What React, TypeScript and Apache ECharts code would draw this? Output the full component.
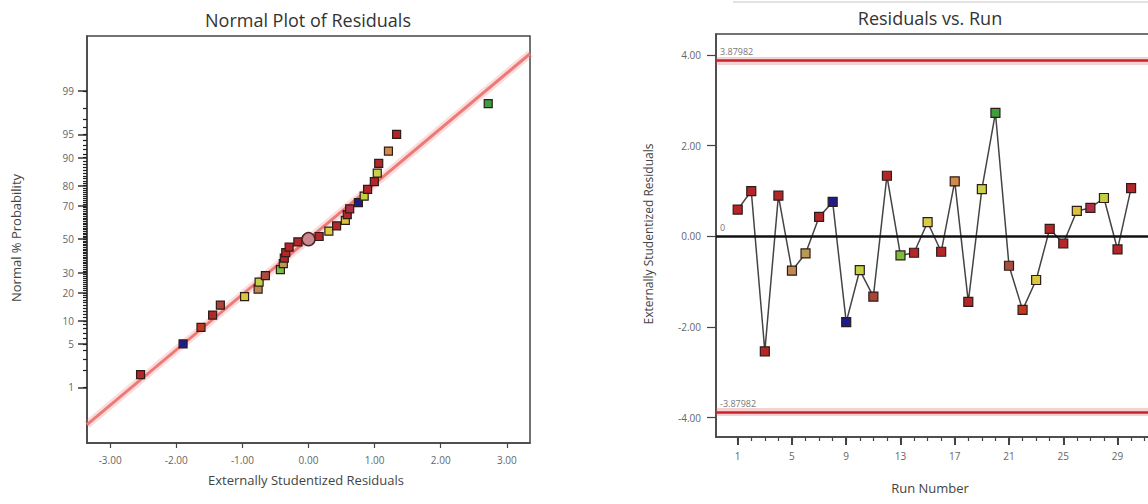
import React, { useEffect, useRef } from "react";
import * as echarts from "echarts";

// ---------- data ----------
const runNumbers = [
  1, 2, 3, 4, 5, 6, 7, 8, 9, 10, 11, 12, 13, 14, 15, 16, 17, 18, 19, 20, 21, 22, 23, 24, 25, 26, 27, 28, 29, 30,
];
const runResiduals = [
  0.586, 0.996, -2.54, 0.894, -0.762, -0.381, 0.425, 0.755, -1.897, -0.747, -1.333, 1.333, -0.425, -0.366, 0.308,
  -0.344, 1.209, -1.45, 1.04, 2.718, -0.652, -1.626, -0.967, 0.161, -0.161, 0.557, 0.623, 0.842, -0.293, 1.062,
];
const runColors = [
  "#b3262a", "#b3262a", "#b3262a", "#b3262a", "#c08a52", "#b89a55", "#b3262a", "#1c1c8c", "#1c1c8c", "#c2d044",
  "#a8443a", "#b3262a", "#7cbc40", "#b3262a", "#dccc42", "#b3262a", "#d08a4c", "#b3262a", "#c8d24c", "#3e9e3e",
  "#a84e40", "#c03a22", "#d8c840", "#b3262a", "#b3262a", "#d8c23e", "#b02e48", "#c0d040", "#b3262a", "#b3262a",
];
// normal % probability of each ranked residual
const normalPct = [
  1.67, 5, 8.33, 11.67, 15, 18.33, 21.67, 25, 28.33, 31.67, 35, 38.33, 41.67, 45, 48.33, 51.67, 55, 58.33, 61.67, 65,
  68.33, 71.67, 75, 78.33, 81.67, 85, 88.33, 91.67, 95, 98.33,
];
const normalTickPct = [1, 5, 10, 20, 30, 50, 70, 80, 90, 95, 99];
const residualTicks = [-3, -2, -1, 0, 1, 2, 3];
const runTicks = [1, 5, 9, 13, 17, 21, 25, 29, 33];
const runResidualTicks = [-4, -2, 0, 2, 4];
const limitValue = 3.87982;
const fitLineResid = [-3.35, 3.35];
const fitLinePct = [0.18, 99.82];
const centerPoint = [0, 50];

// ---------- normal probability scale transform ----------
function probit(p: number): number {
  const a = [-39.69683028665376, 220.9460984245205, -275.9285104469687, 138.357751867269, -30.66479806614716, 2.506628277459239];
  const b = [-54.47609879822406, 161.5858368580409, -155.6989798598866, 66.80131188771972, -13.28068155288572];
  const c = [-0.007784894002430293, -0.3223964580411365, -2.400758277161838, -2.549732539343734, 4.374664141464968, 2.938163982698783];
  const d = [0.007784695709041462, 0.3224671290700398, 2.445134137142996, 3.754408661907416];
  const pl = 0.02425;
  const ph = 1 - pl;
  if (p < pl) {
    const q = Math.sqrt(-2 * Math.log(p));
    return (((((c[0] * q + c[1]) * q + c[2]) * q + c[3]) * q + c[4]) * q + c[5]) / ((((d[0] * q + d[1]) * q + d[2]) * q + d[3]) * q + 1);
  }
  if (p <= ph) {
    const q = p - 0.5;
    const r = q * q;
    return ((((((a[0] * r + a[1]) * r + a[2]) * r + a[3]) * r + a[4]) * r + a[5]) * q) /
      (((((b[0] * r + b[1]) * r + b[2]) * r + b[3]) * r + b[4]) * r + 1);
  }
  const q = Math.sqrt(-2 * Math.log(1 - p));
  return -(((((c[0] * q + c[1]) * q + c[2]) * q + c[3]) * q + c[4]) * q + c[5]) / ((((d[0] * q + d[1]) * q + d[2]) * q + d[3]) * q + 1);
}
const zOf = (pct: number) => probit(pct / 100);

const FONT = "'Open Sans', 'Noto Sans', sans-serif";

export default function App() {
  const ref = useRef<HTMLDivElement>(null);

  useEffect(() => {
    if (!ref.current) return;
    const chart = echarts.init(ref.current, undefined, { renderer: "svg" });

    // ranked residuals for the normal plot
    const order = runResiduals.map((v, i) => i).sort((i, j) => runResiduals[i] - runResiduals[j]);
    const normalData = order.map((idx, rank) => ({
      value: [runResiduals[idx], zOf(normalPct[rank])],
      itemStyle: { color: runColors[idx] },
    }));

    const majorZ = normalTickPct.map(zOf);
    const minorPct: number[] = [];
    for (let p = 1; p <= 99; p++) minorPct.push(p);
    const minorZ = minorPct.map(zOf);
    const minorRuns: number[] = [];
    for (let r = 1; r <= 32; r++) minorRuns.push(r);

    const tickLabel = { color: "#666", fontSize: 10, fontFamily: FONT };
    const axisLine = { show: true, onZero: false, lineStyle: { color: "#444", width: 1.5 } };
    const noLine = { show: false, onZero: false };

    const fitData = fitLineResid.map((x, i) => [x, zOf(fitLinePct[i])]);

    const runData = runNumbers.map((r, i) => ({
      value: [r, runResiduals[i]],
      itemStyle: { color: runColors[i] },
    }));

    const haloStyle = { color: "rgba(225,90,90,0.28)", width: 8, type: "solid" };
    const redStyle = { color: "#c3262c", width: 2.5, type: "solid" };
    const refLabel = { show: true, position: "insideStartTop", color: "#777", fontSize: 9, fontFamily: FONT, distance: 4 };

    const option: any = {
      animation: false,
      backgroundColor: "#ffffff",
      grid: [
        { left: 87, top: 36, width: 443, height: 407, show: true, borderColor: "#444", borderWidth: 1.5, backgroundColor: "transparent" },
        { left: 716, top: 34, width: 449, height: 403, show: true, borderColor: "#444", borderWidth: 1.5, backgroundColor: "transparent" },
      ],
      xAxis: [
        {
          gridIndex: 0, type: "value", position: "bottom", min: -3.35, max: 3.35,
          axisLine,
          axisTick: { customValues: residualTicks, length: 5, lineStyle: { color: "#444", width: 1.2 } },
          axisLabel: { ...tickLabel, customValues: residualTicks, margin: 12, formatter: (v: number) => v.toFixed(2) },
          splitLine: { show: false },
        },
        {
          gridIndex: 1, type: "value", position: "bottom", min: -0.6, max: 32.5,
          axisLine,
          axisTick: { customValues: runTicks, length: 8, lineStyle: { color: "#444", width: 2 } },
          axisLabel: { ...tickLabel, customValues: runTicks, margin: 14, formatter: (v: number) => String(v) },
          splitLine: { show: false },
        },
        {
          gridIndex: 1, type: "value", position: "bottom", min: -0.6, max: 32.5,
          axisLine: noLine,
          axisTick: { customValues: minorRuns, length: 4, lineStyle: { color: "#444", width: 1.2 } },
          axisLabel: { show: false },
          splitLine: { show: false },
        },
      ],
      yAxis: [
        {
          gridIndex: 0, type: "value", position: "left", min: -3.2, max: 3.19,
          axisLine,
          axisTick: { customValues: majorZ, length: 9, lineStyle: { color: "#333", width: 1.5 } },
          axisLabel: {
            ...tickLabel, customValues: majorZ, margin: 13,
            formatter: (v: number) => {
              const i = majorZ.findIndex((z) => Math.abs(z - v) < 1e-6);
              return i >= 0 ? String(normalTickPct[i]) : "";
            },
          },
          splitLine: { show: false },
        },
        {
          gridIndex: 0, type: "value", position: "left", min: -3.2, max: 3.19,
          axisLine: noLine,
          axisTick: { customValues: minorZ, length: 4, lineStyle: { color: "#222", width: 1.2 } },
          axisLabel: { show: false },
          splitLine: { show: false },
        },
        {
          gridIndex: 1, type: "value", position: "left", min: -4.43, max: 4.46,
          axisLine,
          axisTick: { customValues: runResidualTicks, length: 9, lineStyle: { color: "#444", width: 1.2 } },
          axisLabel: { ...tickLabel, customValues: runResidualTicks, margin: 15, formatter: (v: number) => v.toFixed(2) },
          splitLine: { show: false },
        },
      ],
      series: [
        {
          type: "line", xAxisIndex: 0, yAxisIndex: 0, data: fitData, symbol: "none", silent: true,
          lineStyle: { color: "rgba(240,120,120,0.25)", width: 8 }, z: 1,
        },
        {
          type: "line", xAxisIndex: 0, yAxisIndex: 0, data: fitData, symbol: "none", silent: true,
          lineStyle: { color: "#ee7a78", width: 3 }, z: 2,
        },
        {
          type: "scatter", xAxisIndex: 0, yAxisIndex: 0, symbol: "rect", symbolSize: 8, data: normalData, z: 3,
          itemStyle: { borderColor: "#2e1c18", borderWidth: 1.2, opacity: 1 },
        },
        {
          type: "scatter", xAxisIndex: 0, yAxisIndex: 0, symbol: "circle", symbolSize: 13, z: 4,
          data: [[centerPoint[0], zOf(centerPoint[1])]],
          itemStyle: { color: "#c98a92", borderColor: "#4a2424", borderWidth: 1.5, opacity: 1 },
        },
        {
          type: "line", xAxisIndex: 1, yAxisIndex: 2, data: runData, symbol: "rect", symbolSize: 9, z: 3,
          lineStyle: { color: "#444", width: 1.5 },
          itemStyle: { borderColor: "#2e1c18", borderWidth: 1.2, opacity: 1 },
          markLine: {
            silent: true, symbol: "none", animation: false,
            data: [
              { yAxis: limitValue, lineStyle: haloStyle, label: { show: false } },
              { yAxis: -limitValue, lineStyle: haloStyle, label: { show: false } },
              { yAxis: limitValue, lineStyle: redStyle, label: { ...refLabel, formatter: String(limitValue) } },
              { yAxis: -limitValue, lineStyle: redStyle, label: { ...refLabel, formatter: String(-limitValue) } },
              { yAxis: 0, lineStyle: { color: "#111", width: 2.5, type: "solid" }, label: { ...refLabel, formatter: "0" } },
            ],
          },
        },
      ],
      graphic: [
        { type: "line", shape: { x1: 733, y1: 2, x2: 1148, y2: 2 }, style: { stroke: "#d8d8d8", lineWidth: 1.5 }, silent: true },
        { type: "text", x: 308, y: 20, style: { text: "Normal Plot of Residuals", fill: "#333", font: `18px ${FONT}`, align: "center", verticalAlign: "middle" } },
        { type: "text", x: 930, y: 18, style: { text: "Residuals vs. Run", fill: "#333", font: `18px ${FONT}`, align: "center", verticalAlign: "middle" } },
        { type: "text", x: 306, y: 480, style: { text: "Externally Studentized Residuals", fill: "#444", font: `13px ${FONT}`, align: "center", verticalAlign: "middle" } },
        { type: "text", x: 16, y: 238, rotation: Math.PI / 2, style: { text: "Normal % Probability", fill: "#444", font: `13px ${FONT}`, align: "center", verticalAlign: "middle" } },
        { type: "text", x: 648, y: 234, rotation: Math.PI / 2, style: { text: "Externally Studentized Residuals", fill: "#444", font: `12px ${FONT}`, align: "center", verticalAlign: "middle" } },
        { type: "text", x: 930, y: 488, style: { text: "Run Number", fill: "#444", font: `13px ${FONT}`, align: "center", verticalAlign: "middle" } },
      ],
    };

    chart.setOption(option);
    return () => chart.dispose();
  }, []);

  return (
    <div style={{ position: "fixed", left: 0, top: 0, width: 1148, height: 504, background: "#fff", overflow: "hidden" }}>
      <div ref={ref} style={{ width: 1180, height: 504 }} />
    </div>
  );
}
